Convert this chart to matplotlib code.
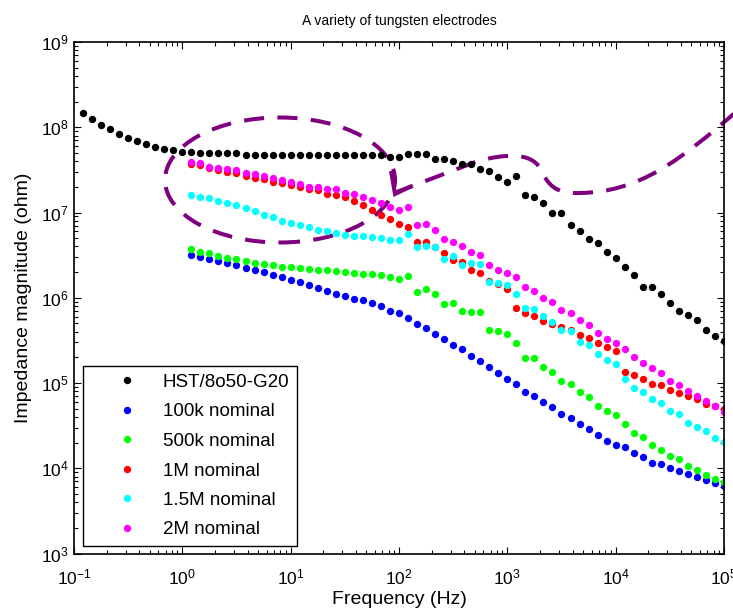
import matplotlib
matplotlib.use("Agg")
import matplotlib.pyplot as plt
from matplotlib.patches import Ellipse, PathPatch
from matplotlib.path import Path

plt.rcParams['font.family'] = ['Liberation Sans', 'DejaVu Sans']
plt.rcParams['mathtext.fontset'] = 'custom'
plt.rcParams['mathtext.rm'] = 'Liberation Sans'
plt.rcParams['mathtext.it'] = 'Liberation Sans:italic'

# frequency sweep (Hz), 12 points per decade
freq = [0.121, 0.147, 0.178, 0.215, 0.261, 0.316, 0.383, 0.464, 0.562, 0.681, 0.825,
        1.0, 1.21, 1.47, 1.78, 2.15, 2.61, 3.16, 3.83, 4.64, 5.62, 6.81, 8.25,
        10.0, 12.1, 14.7, 17.8, 21.5, 26.1, 31.6, 38.3, 46.4, 56.2, 68.1, 82.5,
        100, 121, 147, 178, 215, 261, 316, 383, 464, 562, 681, 825,
        1000, 1210, 1470, 1780, 2150, 2610, 3160, 3830, 4640, 5620, 6810, 8250,
        10000, 12100, 14700, 17800, 21500, 26100, 31600, 38300, 46400, 56200, 68100, 82500,
        100000]
freq_elec = freq[12:]  # the nominal electrodes start at ~1.2 Hz

# impedance magnitudes (ohm)
z_hst = [1.48e8, 1.25e8, 1.06e8, 9.46e7, 8.41e7, 7.43e7, 6.85e7, 6.32e7, 5.83e7, 5.57e7, 5.37e7,
         5.13e7, 5.13e7, 4.95e7, 4.95e7, 4.95e7, 4.95e7, 4.95e7, 4.79e7, 4.79e7, 4.79e7, 4.79e7,
         4.79e7, 4.79e7, 4.79e7, 4.79e7, 4.79e7, 4.79e7, 4.79e7, 4.79e7, 4.79e7, 4.79e7, 4.79e7,
         4.68e7, 4.53e7, 4.53e7, 4.82e7, 4.82e7, 4.82e7, 4.22e7, 4.22e7, 4.03e7, 3.72e7, 3.72e7,
         3.27e7, 3.05e7, 2.59e7, 2.31e7, 2.69e7, 1.60e7, 1.54e7, 1.30e7, 9.82e6, 9.82e6, 7.16e6,
         6.04e6, 4.94e6, 4.37e6, 3.43e6, 2.91e6, 2.29e6, 1.87e6, 1.35e6, 1.35e6, 1.12e6, 8.79e5,
         7.08e5, 6.24e5, 5.55e5, 4.21e5, 3.57e5, 3.07e5]

z_100k = [3.18e6, 3.04e6, 2.83e6, 2.69e6, 2.55e6, 2.39e6, 2.22e6, 2.12e6, 1.98e6, 1.85e6,
          1.74e6, 1.62e6, 1.52e6, 1.42e6, 1.31e6, 1.21e6, 1.10e6, 1.05e6, 9.79e5, 9.44e5,
          8.65e5, 8.04e5, 7.08e5, 6.59e5, 5.75e5, 4.94e5, 4.40e5, 3.76e5, 3.31e5, 2.81e5,
          2.49e5, 2.10e5, 1.79e5, 1.53e5, 1.31e5, 1.11e5, 9.79e4, 7.94e4, 7.08e4, 6.03e4,
          5.16e4, 4.36e4, 3.87e4, 3.30e4, 2.90e4, 2.47e4, 2.10e4, 1.87e4, 1.79e4, 1.53e4,
          1.35e4, 1.15e4, 1.11e4, 1.02e4, 9.35e3, 8.63e3, 7.94e3, 7.33e3, 6.70e3, 6.24e3]

z_500k = [3.72e6, 3.45e6, 3.33e6, 3.10e6, 2.94e6, 2.83e6, 2.73e6, 2.59e6, 2.49e6, 2.39e6,
          2.32e6, 2.29e6, 2.22e6, 2.18e6, 2.12e6, 2.12e6, 2.05e6, 2.03e6, 1.94e6, 1.92e6,
          1.89e6, 1.85e6, 1.74e6, 1.65e6, 1.81e6, 1.16e6, 1.26e6, 1.11e6, 8.45e5, 8.65e5,
          7.08e5, 6.78e5, 6.78e5, 4.21e5, 4.02e5, 3.74e5, 2.94e5, 1.96e5, 1.96e5, 1.53e5,
          1.36e5, 1.06e5, 9.79e4, 7.74e4, 6.84e4, 5.31e4, 4.72e4, 4.21e4, 3.30e4, 2.59e4,
          2.30e4, 1.87e4, 1.65e4, 1.41e4, 1.29e4, 1.05e4, 9.42e3, 8.39e3, 7.46e3, 6.82e3]

z_1m = [3.72e7, 3.61e7, 3.37e7, 3.16e7, 3.02e7, 2.88e7, 2.69e7, 2.56e7, 2.45e7, 2.31e7,
        2.20e7, 2.11e7, 2.00e7, 1.88e7, 1.86e7, 1.67e7, 1.60e7, 1.50e7, 1.37e7, 1.21e7,
        1.07e7, 9.46e6, 8.41e6, 7.41e6, 6.84e6, 4.56e6, 4.56e6, 3.89e6, 3.36e6, 2.78e6,
        2.61e6, 2.12e6, 1.94e6, 1.58e6, 1.46e6, 1.26e6, 7.67e5, 6.59e5, 6.03e5, 5.36e5,
        4.90e5, 4.48e5, 4.13e5, 3.61e5, 3.33e5, 2.94e5, 2.61e5, 2.40e5, 1.36e5, 1.25e5,
        1.11e5, 9.79e4, 9.35e4, 8.32e4, 7.62e4, 7.08e4, 6.47e4, 5.70e4, 5.31e4, 4.99e4]

z_15m = [1.60e7, 1.54e7, 1.47e7, 1.37e7, 1.31e7, 1.21e7, 1.13e7, 1.04e7, 9.46e6, 8.81e6,
         8.04e6, 7.62e6, 7.16e6, 6.84e6, 6.31e6, 6.04e6, 5.71e6, 5.46e6, 5.36e6, 5.36e6,
         5.13e6, 4.99e6, 4.78e6, 4.78e6, 5.61e6, 3.98e6, 4.09e6, 3.92e6, 2.83e6, 3.10e6,
         2.40e6, 2.55e6, 2.49e6, 1.54e6, 1.48e6, 1.42e6, 1.10e6, 7.67e5, 7.35e5, 6.03e5,
         5.13e5, 4.21e5, 4.02e5, 3.01e5, 2.78e5, 2.20e5, 1.87e5, 1.66e5, 1.11e5, 8.71e4,
         7.94e4, 6.47e4, 5.81e4, 4.72e4, 4.36e4, 3.44e4, 3.04e4, 2.70e4, 2.28e4, 2.03e4]

z_2m = [3.89e7, 3.78e7, 3.45e7, 3.37e7, 3.21e7, 3.13e7, 2.94e7, 2.81e7, 2.69e7, 2.52e7,
        2.39e7, 2.26e7, 2.14e7, 2.01e7, 1.98e7, 1.91e7, 1.87e7, 1.71e7, 1.67e7, 1.54e7,
        1.41e7, 1.29e7, 1.15e7, 1.07e7, 1.15e7, 7.16e6, 7.41e6, 6.31e6, 4.94e6, 4.52e6,
        4.06e6, 3.43e6, 3.18e6, 2.40e6, 2.12e6, 1.94e6, 1.73e6, 1.32e6, 1.21e6, 9.89e5,
        8.87e5, 7.16e5, 6.59e5, 5.41e5, 4.78e5, 3.91e5, 3.31e5, 2.94e5, 2.49e5, 2.03e5,
        1.73e5, 1.48e5, 1.31e5, 1.06e5, 9.35e4, 8.11e4, 7.13e4, 6.07e4, 5.31e4, 4.56e4]

labels = ['HST/8o50-G20', '100k nominal', '500k nominal', '1M nominal', '1.5M nominal', '2M nominal']
colors = ['#000000', '#0000ff', '#00ff00', '#ff0000', '#00ffff', '#ff00ff']

W, H = 733, 615
fig = plt.figure(figsize=(W / 100, H / 100), dpi=100)
L, R, T, B = 74, 724, 42, 553.5
ax = fig.add_axes([L / W, (H - B) / H, (R - L) / W, (B - T) / H])

series = [(freq, z_hst)] + [(freq_elec, z) for z in (z_100k, z_500k, z_1m, z_15m, z_2m)]
for (f, z), lab, c in zip(series, labels, colors):
    ax.plot(f, z, 'o', ms=5.3, mew=0, color=c, label=lab)

ax.set_xscale('log')
ax.set_yscale('log')
ax.set_xlim(1e-1, 1e5)
ax.set_ylim(1e3, 1e9)

ax.tick_params(which='both', direction='in', top=True, right=True, width=0.8,
               labelsize=12.5)
ax.tick_params(axis='x', which='both', pad=10)
ax.tick_params(axis='y', which='both', pad=4)
ax.tick_params(which='major', length=5)
ax.tick_params(which='minor', length=2.8)
for s in ax.spines.values():
    s.set_linewidth(1.2)

ax.set_title('A variety of tungsten electrodes', fontsize=10, pad=12)
ax.set_xlabel('Frequency (Hz)', fontsize=14, labelpad=3)
ax.set_ylabel('Impedance magnitude (ohm)', fontsize=14, labelpad=6)

leg = ax.legend(loc='lower left', bbox_to_anchor=((83 - L) / (R - L), (B - 546) / (B - T)),
                borderaxespad=0, fontsize=13.5, frameon=True, fancybox=False,
                edgecolor='black', framealpha=1, borderpad=0.4, handlelength=3.85,
                handletextpad=0.0, labelspacing=0.66, numpoints=1)
leg.get_frame().set_linewidth(1.0)


# hand-drawn purple annotation, positioned in axes fraction
def fr(px, py):
    return ((px - L) / (R - L), (B - py) / (B - T))


purple = '#7f007f'
dash = (0, (5, 3.3))
cx, cy = fr(280, 180)
ax.add_patch(Ellipse((cx, cy), 230 / (R - L), 125 / (B - T), transform=ax.transAxes,
                     fill=False, ec=purple, lw=2.9, linestyle=dash, clip_on=False))

pts = [fr(394, 193), fr(478, 161),
       fr(505, 154), fr(530, 152), fr(540, 168),
       fr(548, 185), fr(555, 194), fr(580, 193),
       fr(640, 192), fr(680, 160), fr(736, 112)]
codes = [Path.MOVETO, Path.LINETO] + [Path.CURVE4] * 9
ax.add_patch(PathPatch(Path(pts, codes), transform=ax.transAxes, fill=False, ec=purple,
                       lw=2.9, linestyle=dash, clip_on=False))
head = [fr(391, 171), fr(395, 194), fr(412, 186)]
ax.add_patch(PathPatch(Path(head, [Path.MOVETO, Path.LINETO, Path.LINETO]),
                       transform=ax.transAxes, fill=False, ec=purple, lw=2.9,
                       capstyle='butt', joinstyle='miter', clip_on=False))

fig.savefig('out.png', dpi=100)
